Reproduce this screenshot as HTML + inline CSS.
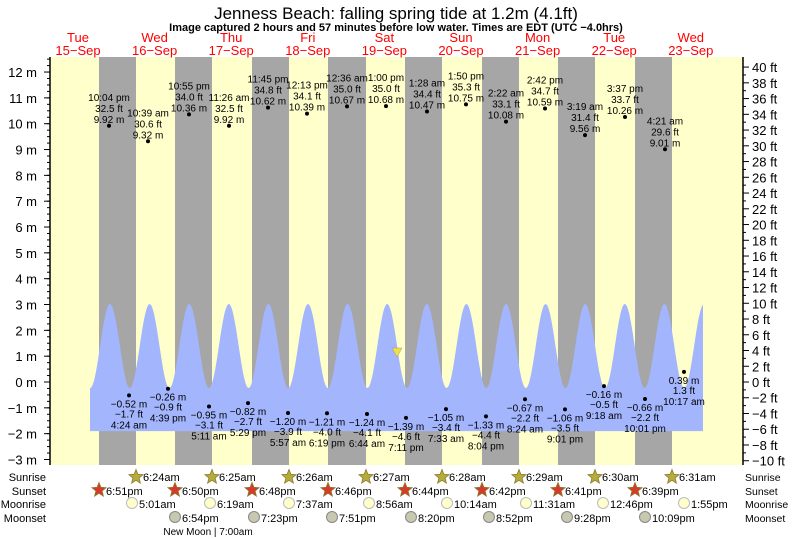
<!DOCTYPE html>
<html><head><meta charset="utf-8"><style>
html,body{margin:0;padding:0;background:#fff;}
svg{display:block;font-family:"Liberation Sans",Arial,sans-serif;}
</style></head><body>
<svg id="s" width="793" height="539" viewBox="0 0 793 539" xmlns="http://www.w3.org/2000/svg"></svg>
<script>
var s=document.getElementById('s');var h='';
function Y(m){return 382-m*25.83;}
h+='<rect x="50" y="57" width="693" height="408" fill="#ffffcc"/>';
var ss=[99,175,252,328,405,482,558,635],sr=[136,212,289,366,442,519,595,672];
for(var i=0;i<8;i++)h+='<rect x="'+ss[i]+'" y="57" width="'+(sr[i]-ss[i])+'" height="408" fill="#a6a6a6"/>';
var P=39.6,x0=110,pts='M90,'+Y(-1.9)+' ';
for(var x=90;x<=703;x+=1){var a=Math.cos(2*Math.PI*(x-x0)/P);var y=346-42*a;pts+='L'+x+','+y.toFixed(1)+' ';}
pts+='L703,'+Y(-1.9)+'Z';
h+='<path d="'+pts+'" fill="#a3b5fd"/>';
h+='<line x1="50" y1="57" x2="50" y2="465" stroke="#000" stroke-width="1.5"/>';
h+='<line x1="743" y1="57" x2="743" y2="465" stroke="#000" stroke-width="1.5"/>';
for(var m=-3;m<=12;m++){var y=Y(m);h+='<line x1="44" x2="50" y1="'+y+'" y2="'+y+'" stroke="#000"/>';
h+='<text x="37" y="'+(y+5)+'" font-size="13" text-anchor="end">'+(m<0?'\u2212'+(-m):m)+' m</text>';}
for(var m=-3.25;m<=12.5;m+=0.25){var y=Y(m);if(y<57||y>465)continue;h+='<line x1="47" x2="50" y1="'+y+'" y2="'+y+'" stroke="#000"/>';}
for(var f=-10;f<=40;f++){var y=Y(f*0.3048);if(f%2==0){h+='<line x1="743" x2="749" y1="'+y+'" y2="'+y+'" stroke="#000"/>';
h+='<text x="752" y="'+(y+5)+'" font-size="13">'+(f<0?'\u2212'+(-f):f)+' ft</text>';}else h+='<line x1="743" x2="746" y1="'+y+'" y2="'+y+'" stroke="#000"/>';}
h+='<text x="396" y="19" font-size="17" text-anchor="middle">Jenness Beach: falling  spring tide at 1.2m (4.1ft)</text>';
h+='<text x="396" y="31" font-size="11" font-weight="bold" text-anchor="middle">Image captured 2 hours and 57 minutes before low water. Times are EDT (UTC \u22124.0hrs)</text>';
var days=['Tue','Wed','Thu','Fri','Sat','Sun','Mon','Tue','Wed'];
for(var i=0;i<9;i++){var x=78+i*76.6;h+='<text x="'+x+'" y="42" font-size="13" fill="#f00" text-anchor="middle">'+days[i]+'</text><text x="'+x+'" y="55" font-size="13" fill="#f00" text-anchor="middle">'+(15+i)+'\u2212Sep</text>';}
function t(x,y,s){return '<text x="'+x+'" y="'+y+'" font-size="10" text-anchor="middle">'+s+'</text>';}
var hi=[[109,'10:04 pm','32.5',9.92],[148,'10:39 am','30.6',9.32],[189,'10:55 pm','34.0',10.36],[229,'11:26 am','32.5',9.92],[268,'11:45 pm','34.8',10.62],[307,'12:13 pm','34.1',10.39],[347,'12:36 am','35.0',10.67],[386,'1:00 pm','35.0',10.68],[427,'1:28 am','34.4',10.47],[466,'1:50 pm','35.3',10.75],[506,'2:22 am','33.1',10.08],[545,'2:42 pm','34.7',10.59],[585,'3:19 am','31.4',9.56],[625,'3:37 pm','33.7',10.26],[665,'4:21 am','29.6',9.01]];
hi.forEach(function(d){var y=Y(d[3]);h+='<circle cx="'+d[0]+'" cy="'+y+'" r="2" fill="#000"/>';h+=t(d[0],y-25,d[1])+t(d[0],y-14,d[2]+' ft')+t(d[0],y-3,d[3].toFixed(2)+' m');});
var lo=[[129,-0.52,'-1.7','4:24 am'],[168,-0.26,'-0.9','4:39 pm'],[209,-0.95,'-3.1','5:11 am'],[248,-0.82,'-2.7','5:29 pm'],[288,-1.20,'-3.9','5:57 am'],[327,-1.21,'-4.0','6:19 pm'],[367,-1.24,'-4.1','6:44 am'],[406,-1.39,'-4.6','7:11 pm'],[446,-1.05,'-3.4','7:33 am'],[486,-1.33,'-4.4','8:04 pm'],[525,-0.67,'-2.2','8:24 am'],[565,-1.06,'-3.5','9:01 pm'],[604,-0.16,'-0.5','9:18 am'],[645,-0.66,'-2.2','10:01 pm'],[684,0.39,'1.3','10:17 am']];
function mm(v){return (v<0?'\u2212':'')+Math.abs(v).toFixed(2);}
lo.forEach(function(d){var y=Y(d[1]);h+='<circle cx="'+d[0]+'" cy="'+y+'" r="2" fill="#000"/>';h+=t(d[0],y+12,mm(d[1])+' m')+t(d[0],y+22,d[2].replace('-','\u2212')+' ft')+t(d[0],y+33,d[3]);});
h+='<polygon points="392,348 402,348 397,357" fill="#f0e040" stroke="#999" stroke-width="0.5"/>';
var rows=[['Sunrise',481],['Sunset',495],['Moonrise',508],['Moonset',522]];
rows.forEach(function(r){h+='<text x="46" y="'+r[1]+'" font-size="11" text-anchor="end">'+r[0]+'</text><text x="745" y="'+r[1]+'" font-size="10.5">'+r[0]+'</text>';});
function star(cx,cy,fill){var p='';for(var k=0;k<10;k++){var rr=k%2?3.3:7.5,a=-Math.PI/2+k*Math.PI/5;p+=(cx+rr*Math.cos(a)).toFixed(1)+','+(cy+rr*Math.sin(a)).toFixed(1)+' ';}return '<polygon points="'+p+'" fill="'+fill+'" stroke="#8a7a30" stroke-width="0.8"/>';}
var srt=['6:24am','6:25am','6:26am','6:27am','6:28am','6:29am','6:30am','6:31am'];
var sst=['6:51pm','6:50pm','6:48pm','6:46pm','6:44pm','6:42pm','6:41pm','6:39pm'];
for(var i=0;i<8;i++){h+=star(sr[i],477,'#b5ac3a')+'<text x="'+(sr[i]+7)+'" y="481" font-size="11">'+srt[i]+'</text>';
h+=star(ss[i],490,'#d83a2a')+'<text x="'+(ss[i]+7)+'" y="495" font-size="11">'+sst[i]+'</text>';}
var mr=[[132,'5:01am'],[210,'6:19am'],[289,'7:37am'],[369,'8:56am'],[447,'10:14am'],[526,'11:31am'],[603,'12:46pm'],[684,'1:55pm']];
mr.forEach(function(d){h+='<circle cx="'+d[0]+'" cy="503" r="5.5" fill="#ffffcc" stroke="#bbb"/><text x="'+(d[0]+7)+'" y="508" font-size="11">'+d[1]+'</text>';});
var ms=[[175,'6:54pm'],[254,'7:23pm'],[332,'7:51pm'],[411,'8:20pm'],[489,'8:52pm'],[567,'9:28pm'],[645,'10:09pm']];
ms.forEach(function(d){h+='<circle cx="'+d[0]+'" cy="517" r="5.5" fill="#c8c8b0" stroke="#888"/><text x="'+(d[0]+7)+'" y="522" font-size="11">'+d[1]+'</text>';});
h+='<text x="208" y="535" font-size="10" text-anchor="middle">New Moon | 7:00am</text>';
s.innerHTML=h;
</script>
</body></html>
